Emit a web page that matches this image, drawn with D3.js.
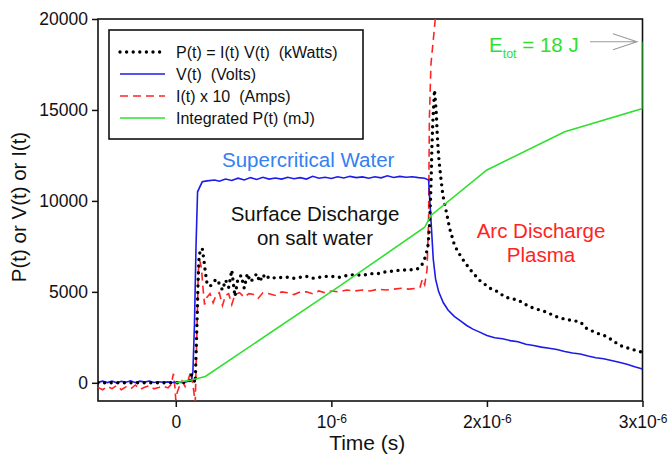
<!DOCTYPE html>
<html>
<head>
<meta charset="utf-8">
<script src="https://cdn.jsdelivr.net/npm/d3@7"></script>
<style>
  body { margin: 0; background: #fff; }
  text { font-family: "Liberation Sans", Arial, sans-serif; }
</style>
</head>
<body>
<svg id="chart" width="671" height="455"></svg>
<script>
/** Data (times in microseconds) */

// V(t) in Volts
var vTime = [-0.5, -0.47, -0.44, -0.41, -0.38, -0.35, -0.32, -0.29, -0.26, -0.23, -0.2, -0.17, -0.14, -0.11, -0.08, -0.05, -0.02, 0.01, 0.04, 0.07, 0.1, 0.11, 0.12, 0.13, 0.14, 0.17,
  0.2, 0.25, 0.28, 0.32, 0.36, 0.4, 0.44, 0.48, 0.52, 0.56, 0.6, 0.64, 0.68, 0.72, 0.76, 0.8, 0.84, 0.88, 0.92, 0.96, 1.0, 1.04, 1.08, 1.12, 1.16, 1.2, 1.24, 1.28, 1.32, 1.36, 1.4, 1.44, 1.48, 1.52, 1.56, 1.6, 1.625,
  1.64, 1.655, 1.67, 1.69, 1.72, 1.75, 1.79, 1.83, 1.87, 1.91, 1.95, 2.0, 2.05, 2.1, 2.15, 2.2, 2.25, 2.3, 2.35, 2.4, 2.45, 2.5, 2.55, 2.6, 2.65, 2.7, 2.75, 2.8, 2.85, 2.9, 2.95, 3.0];
var vVals = [20, 90, 10, 100, 0, 80, 30, 110, 10, 90, 40, 100, 20, 60, 30, 50, 20, 40, 20, 60, 120, 600, 3200, 7500, 10500, 11050,
  11100, 11150, 11080, 11200, 11120, 11250, 11150, 11280, 11180, 11300, 11200, 11260, 11200, 11300, 11220, 11280, 11200, 11350, 11250, 11300, 11230, 11330, 11260, 11350, 11280, 11320, 11250, 11330, 11270, 11380, 11290, 11350, 11300, 11330, 11280, 11250, 11150,
  9000, 6800, 5700, 5000, 4400, 4000, 3650, 3400, 3150, 2950, 2800, 2600, 2480, 2420, 2320, 2260, 2120, 2050, 1960, 1900, 1830, 1720, 1640, 1580, 1470, 1380, 1320, 1230, 1130, 1020, 880, 760];

// I(t) x 10 in Amps
var iTime = [-0.5, -0.47, -0.44, -0.41, -0.38, -0.35, -0.32, -0.29, -0.26, -0.23, -0.2, -0.17, -0.14, -0.11, -0.08, -0.05, -0.03, -0.015, -0.005, 0.0, 0.01, 0.025, 0.04, 0.06, 0.08, 0.095, 0.11, 0.125,
  0.135, 0.145, 0.155, 0.165, 0.175, 0.185, 0.2, 0.22, 0.24, 0.26, 0.28, 0.3, 0.32, 0.34, 0.36, 0.38, 0.41, 0.44, 0.47, 0.5, 0.53, 0.56, 0.6, 0.64, 0.68, 0.72, 0.76, 0.8, 0.84, 0.88, 0.92, 0.96,
  1.0, 1.05, 1.1, 1.15, 1.2, 1.25, 1.3, 1.35, 1.4, 1.45, 1.5, 1.55, 1.57, 1.585, 1.6, 1.615, 1.625, 1.63, 1.64, 1.668, 1.68];
var iVals = [-250, -380, -200, -320, -150, -380, -220, -330, -120, -360, -250, -150, -330, -260, -180, -280, -100, 500, -300, -950, -500, -150, 100, -200, 150, 600, -100, -1100,
  2500, 6200, 6700, 6300, 5200, 4300, 4700, 4900, 4400, 4850, 4950, 4250, 4800, 4900, 4300, 4850, 4950, 4700, 4900, 4850, 4650, 4950, 4900, 4800, 5000, 4950, 4850, 5000, 5000, 4900, 5050, 4950,
  5050, 5000, 5100, 5050, 5100, 5050, 5150, 5100, 5150, 5200, 5150, 5200, 5250, 5700, 5400, 6200, 9000, 14500, 17500, 20000, 21500];

// P(t) = I(t) V(t) in kWatts
var pTime = [-0.5, 0.0, 0.05, 0.09, 0.1, 0.11, 0.12, 0.125, 0.13, 0.137, 0.143, 0.15, 0.16, 0.17, 0.18, 0.19,
  0.2, 0.22, 0.24, 0.26, 0.28, 0.3, 0.32, 0.34, 0.36, 0.38, 0.4, 0.42, 0.44, 0.46, 0.48, 0.5, 0.52, 0.54, 0.56, 0.58, 0.6, 0.64, 0.68, 0.72, 0.76, 0.8, 0.84, 0.88, 0.92, 0.96,
  1.0, 1.05, 1.1, 1.15, 1.2, 1.25, 1.3, 1.35, 1.4, 1.45, 1.5, 1.55, 1.57, 1.59, 1.605, 1.62, 1.63, 1.637, 1.642, 1.646, 1.652, 1.659, 1.663,
  1.674, 1.681, 1.689, 1.702, 1.717, 1.739, 1.76, 1.792, 1.835, 1.89, 1.95, 2.02, 2.06, 2.12, 2.2, 2.26, 2.3, 2.38, 2.44, 2.5, 2.6, 2.64, 2.7, 2.77, 2.83, 2.87, 2.93, 2.99, 3.0];
var pVals = [0, 0, 20, 100, 450, 250, 100, 0, 1500, 3500, 5500, 7000, 7300, 7400, 6800, 6100,
  5500, 5300, 5500, 5700, 5450, 5100, 5650, 5250, 6200, 4750, 5750, 5900, 5200, 6000, 5550, 5750, 6000, 5550, 5950, 5700, 5850, 5750, 5800, 5800, 5750, 5800, 5850, 5750, 5800, 5850,
  5850, 5800, 5900, 5950, 5900, 6000, 6000, 6100, 6150, 6200, 6200, 6250, 6350, 6600, 6950, 7450, 8500, 9950, 11400, 12900, 14300, 15450, 16100,
  14900, 13600, 12500, 11400, 10300, 9400, 8500, 7550, 6900, 6250, 5650, 5200, 5050, 4700, 4550, 4250, 4100, 3900, 3650, 3500, 3350, 3000, 2750, 2550, 2200, 2000, 1850, 1700, 1650];

// Integrated P(t) in mJ
var eTime = [0, 0.1, 0.19, 1.05, 1.6, 1.64, 2.0, 2.5, 3.0, 3.0];
var eVals = [0, 150, 350, 5300, 8550, 9200, 11700, 13800, 15080, 18750];

var xTicks = [0, 1e-6, 2e-6, 3e-6];
var xTickBase = ["0", "10", "2x10", "3x10"];
var xTickExp = ["", "-6", "-6", "-6"];
var yTicks = [0, 5000, 10000, 15000, 20000];

var legendLabels = ["P(t) = I(t) V(t)  (kWatts)", "V(t)  (Volts)", "I(t) x 10  (Amps)", "Integrated P(t) (mJ)"];

/** Layout */

var margin = {top: 19, right: 28.5, bottom: 54, left: 98};
var width = 671 - margin.left - margin.right;
var height = 455 - margin.top - margin.bottom;

var BLUE = "#1c1ce8";
var RED = "#ff2424";
var GREEN = "#2fe02f";

var svg = d3.select("#chart");
var g = svg.append("g")
  .attr("transform", "translate(" + margin.left + "," + margin.top + ")");

var x = d3.scaleLinear()
  .domain([-0.5e-6, 3e-6])
  .range([0, width]);

var y = d3.scaleLinear()
  .domain([-1000, 20000])
  .range([height, 0]);

// AXES //

var xAxis = g.append("g")
  .attr("transform", "translate(0," + height + ")")
  .call(d3.axisBottom(x).tickValues(xTicks).tickSize(6).tickSizeOuter(0).tickPadding(9).tickFormat(""));

xAxis.selectAll(".tick text").each(function(d, i) {
  var t = d3.select(this)
    .style("font-size", "17.5px");
  t.append("tspan").text(xTickBase[i]);
  if (xTickExp[i]) {
    t.append("tspan")
      .attr("dy", "-0.45em")
      .style("font-size", "12px")
      .text(xTickExp[i]);
  }
});

var yAxis = g.append("g")
  .call(d3.axisLeft(y).tickValues(yTicks).tickSize(6).tickSizeOuter(0).tickPadding(4).tickFormat(d3.format("d")));
yAxis.selectAll(".tick text").style("font-size", "17.5px");

[xAxis, yAxis].forEach(function(a) {
  a.selectAll("line").attr("stroke", "#111").attr("stroke-width", 1.5);
  a.select(".domain").remove();
  a.selectAll("text").attr("fill", "#111");
});

// frame
g.append("rect")
  .attr("width", width)
  .attr("height", height)
  .attr("fill", "none")
  .attr("stroke", "#111")
  .attr("stroke-width", 1.6);

// axis labels
g.append("text")
  .attr("text-anchor", "middle")
  .attr("x", width / 2 - 3)
  .attr("y", height + 49)
  .style("font-size", "21px")
  .attr("fill", "#111")
  .text("Time (s)");

svg.append("text")
  .attr("text-anchor", "middle")
  .attr("transform", "translate(26,207) rotate(-90)")
  .style("font-size", "20.5px")
  .attr("fill", "#111")
  .text("P(t) or V(t) or I(t)");

// LINES //

g.append("defs").append("clipPath")
  .attr("id", "clip")
  .append("rect")
  .attr("width", width)
  .attr("height", height);

var plot = g.append("g").attr("clip-path", "url(#clip)");

function series(times, vals) {
  return times.map(function(t, i) { return [t * 1e-6, vals[i]]; });
}

var line = d3.line()
  .x(function(d) { return x(d[0]); })
  .y(function(d) { return y(d[1]); });

plot.append("path")
  .datum(series(iTime, iVals))
  .attr("fill", "none")
  .attr("stroke", RED)
  .attr("stroke-width", 1.6)
  .attr("stroke-dasharray", "8,5")
  .attr("d", line);

plot.append("path")
  .datum(series(vTime, vVals))
  .attr("fill", "none")
  .attr("stroke", BLUE)
  .attr("stroke-width", 1.6)
  .attr("d", line);

plot.append("path")
  .datum(series(pTime, pVals))
  .attr("fill", "none")
  .attr("stroke", "#000")
  .attr("stroke-width", 3.4)
  .attr("stroke-linecap", "round")
  .attr("stroke-dasharray", "0,6.6")
  .attr("d", line);

plot.append("path")
  .datum(series(eTime, eVals))
  .attr("fill", "none")
  .attr("stroke", GREEN)
  .attr("stroke-width", 1.6)
  .attr("d", line);

// LEGEND //

var legend = g.append("g")
  .attr("transform", "translate(11,11)");

legend.append("rect")
  .attr("width", 254)
  .attr("height", 109)
  .attr("fill", "#fff")
  .attr("stroke", "#111")
  .attr("stroke-width", 1.6);

var legendStyles = [
  {color: "#000", width: 3.4, dash: "0,6.6", cap: "round"},
  {color: BLUE, width: 1.6, dash: null, cap: "butt"},
  {color: RED, width: 1.6, dash: "8,5", cap: "butt"},
  {color: GREEN, width: 1.6, dash: null, cap: "butt"}
];

legendLabels.forEach(function(label, i) {
  var row = legend.append("g")
    .attr("transform", "translate(0," + (22 + i * 22) + ")");
  var s = legendStyles[i];
  row.append("line")
    .attr("x1", 11)
    .attr("x2", 56)
    .attr("stroke", s.color)
    .attr("stroke-width", s.width)
    .attr("stroke-linecap", s.cap)
    .attr("stroke-dasharray", s.dash);
  row.append("text")
    .attr("x", 67)
    .attr("dy", "0.36em")
    .attr("xml:space", "preserve")
    .style("white-space", "pre")
    .style("font-size", "16px")
    .attr("fill", "#111")
    .text(label);
});

// ANNOTATIONS //

svg.append("text")
  .attr("x", 222)
  .attr("y", 167)
  .style("font-size", "20.5px")
  .attr("fill", "#3580f2")
  .text("Supercritical Water");

svg.append("text")
  .attr("text-anchor", "middle")
  .attr("x", 315)
  .attr("y", 221)
  .style("font-size", "20.5px")
  .attr("fill", "#111")
  .text("Surface Discharge");

svg.append("text")
  .attr("text-anchor", "middle")
  .attr("x", 315)
  .attr("y", 245)
  .style("font-size", "20.5px")
  .attr("fill", "#111")
  .text("on salt water");

svg.append("text")
  .attr("text-anchor", "middle")
  .attr("x", 541)
  .attr("y", 238)
  .style("font-size", "20.5px")
  .attr("fill", RED)
  .text("Arc Discharge");

svg.append("text")
  .attr("text-anchor", "middle")
  .attr("x", 541)
  .attr("y", 262)
  .style("font-size", "20.5px")
  .attr("fill", RED)
  .text("Plasma");

var etot = svg.append("text")
  .attr("x", 489)
  .attr("y", 52)
  .style("font-size", "20.5px")
  .attr("fill", GREEN);
etot.append("tspan").text("E");
etot.append("tspan")
  .attr("dy", 6)
  .style("font-size", "12.5px")
  .text("tot");
etot.append("tspan")
  .attr("dy", -6)
  .attr("xml:space", "preserve")
  .text(" = 18 J");

// arrow to the final integrated value
var arrowY = y(18750) + margin.top;
svg.append("path")
  .attr("d", "M590," + arrowY + "H637M613," + (arrowY - 8) + "L637," + arrowY + "L613," + (arrowY + 8))
  .attr("fill", "none")
  .attr("stroke", "#9a9a9a")
  .attr("stroke-width", 1.1);
</script>
</body>
</html>
